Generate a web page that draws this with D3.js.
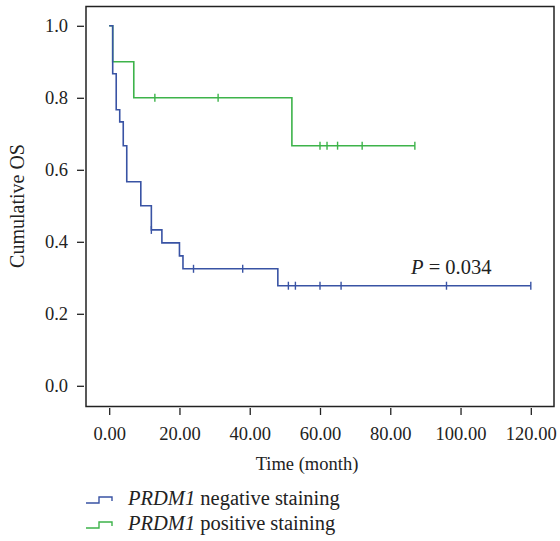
<!DOCTYPE html>
<html>
<head>
<meta charset="utf-8">
<script src="https://cdn.jsdelivr.net/npm/d3@7"></script>
<style>
  body { margin: 0; background: #fff; }
  svg { display: block; font-family: "Liberation Serif", "DejaVu Serif", serif; }
  .axis line { stroke: #222; stroke-width: 1.3; }
</style>
</head>
<body>
<svg id="chart" width="560" height="541"></svg>
<script>
// Kaplan-Meier steps (time in months, cumulative OS)
var negTime   = [0, 1, 2, 3, 4, 5, 9, 12, 15, 20, 21, 48, 120];
var negSurv   = [1, 0.867, 0.767, 0.733, 0.667, 0.567, 0.5, 0.433, 0.397, 0.361, 0.325, 0.278, 0.278];
var negCensor = [12, 24, 38, 51, 53, 60, 66, 96, 120];

var posTime   = [0, 1, 7, 52, 87];
var posSurv   = [1, 0.9, 0.8, 0.667, 0.667];
var posCensor = [13, 31, 60, 62, 65, 72, 87];

var xTicks = [0, 20, 40, 60, 80, 100, 120];
var yTicks = [0, 0.2, 0.4, 0.6, 0.8, 1.0];

var groupNames  = ["negative staining", "positive staining"];
var groupColors = ["#3953a4", "#3db34a"];

var serif = '"Liberation Serif", "DejaVu Serif", serif';
var svg = d3.select('#chart');

// plot frame covers a bit more than the data range
var x = d3.scaleLinear().domain([-6.6, 126.6]).range([86, 554]);
var y = d3.scaleLinear().domain([-0.0575, 1.0536]).range([406.5, 6.5]);

svg.append('rect')
    .attr('x', 86).attr('y', 6.5)
    .attr('width', 468).attr('height', 400)
    .attr('fill', 'none')
    .attr('stroke', '#222')
    .attr('stroke-width', 1.5);

// axes sit slightly outside the frame, SPSS style
var yAxis = svg.append('g')
    .attr('class', 'axis')
    .attr('transform', 'translate(84,0)')
    .call(d3.axisLeft(y).tickValues(yTicks).tickSize(7).tickPadding(9)
        .tickFormat(d3.format('.1f')));
yAxis.select('.domain').remove();

var xAxis = svg.append('g')
    .attr('class', 'axis')
    .attr('transform', 'translate(0,408)')
    .call(d3.axisBottom(x).tickValues(xTicks).tickSize(7).tickPadding(12)
        .tickFormat(d3.format('.2f')));
xAxis.select('.domain').remove();

svg.selectAll('.axis')
    .attr('font-family', serif)
    .attr('font-size', 18.5);
svg.selectAll('.axis text')
    .style('font-family', serif)
    .attr('fill', '#222');

svg.append('text')
    .attr('x', 307).attr('y', 470)
    .attr('text-anchor', 'middle')
    .style('font-size', '18.5px').style('fill', '#222')
    .text('Time (month)');

svg.append('text')
    .attr('transform', 'translate(24,206) rotate(-90)')
    .attr('text-anchor', 'middle')
    .style('font-size', '20px').style('fill', '#222')
    .text('Cumulative OS');

var line = d3.line()
    .x(function(d) { return x(d[0]); })
    .y(function(d) { return y(d[1]); })
    .curve(d3.curveStepAfter);

// survival value at time t for a step curve
function survAt(times, surv, t) {
    var i = d3.bisectRight(times, t) - 1;
    return surv[Math.max(0, i)];
}

function drawCurve(times, surv, censor, color) {
    svg.append('path')
        .datum(d3.zip(times, surv))
        .attr('d', line)
        .attr('fill', 'none')
        .attr('stroke', color)
        .attr('stroke-width', 1.6);

    svg.append('g').selectAll('line')
        .data(censor)
      .join('line')
        .attr('x1', function(d) { return x(d); })
        .attr('x2', function(d) { return x(d); })
        .attr('y1', function(d) { return y(survAt(times, surv, d)) - 4; })
        .attr('y2', function(d) { return y(survAt(times, surv, d)) + 4; })
        .attr('stroke', color)
        .attr('stroke-width', 1.4);
}

drawCurve(posTime, posSurv, posCensor, groupColors[1]);
drawCurve(negTime, negSurv, negCensor, groupColors[0]);

// p value
var pText = svg.append('text')
    .attr('x', 411).attr('y', 274)
    .style('font-size', '20.5px').style('fill', '#222');
pText.append('tspan').style('font-style', 'italic').text('P');
pText.append('tspan').text(' = 0.034');

// legend
var legend = svg.append('g').selectAll('g')
    .data(groupNames)
  .join('g')
    .attr('transform', function(d, i) { return 'translate(0,' + (i * 25) + ')'; });

legend.append('path')
    .attr('d', 'M86,503H99V497H112V501')
    .attr('fill', 'none')
    .attr('stroke', function(d, i) { return groupColors[i]; })
    .attr('stroke-width', 1.4);

var legText = legend.append('text')
    .attr('x', 128).attr('y', 505)
    .style('font-size', '20.5px').style('fill', '#222');
legText.append('tspan').style('font-style', 'italic').text('PRDM1');
legText.append('tspan').text(function(d) { return ' ' + d; });
</script>
</body>
</html>
